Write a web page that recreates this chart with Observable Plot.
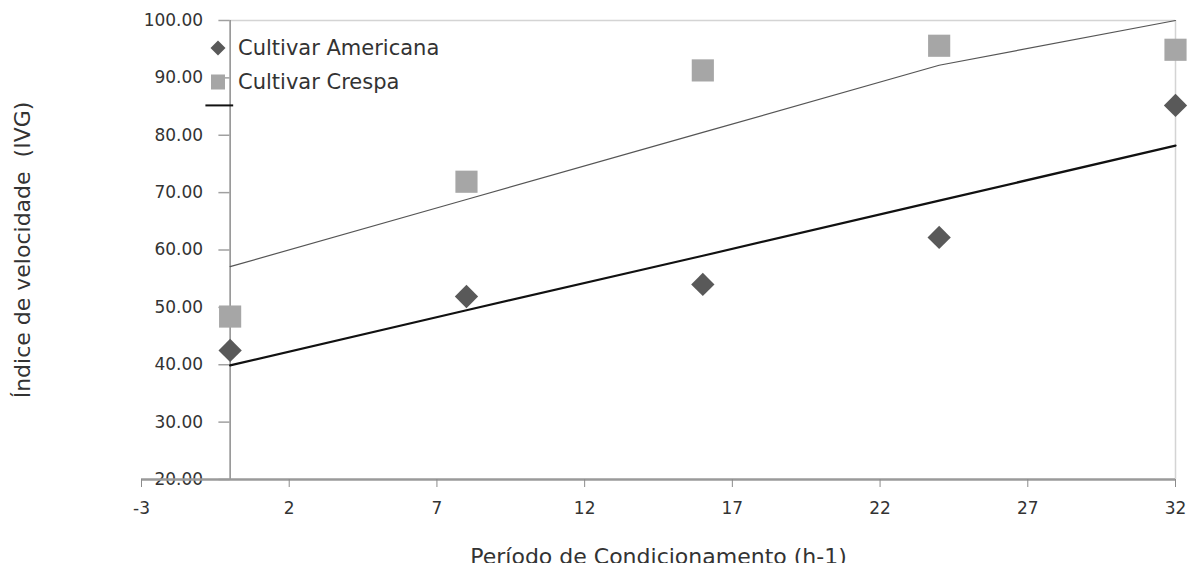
<!DOCTYPE html>
<html>
<head>
<meta charset="utf-8">
<script src="https://cdn.jsdelivr.net/npm/d3@7"></script>
<script src="https://cdn.jsdelivr.net/npm/@observablehq/plot@0.6"></script>
<style>
  html, body { margin: 0; padding: 0; background: #fff; }
  #wrap { position: relative; width: 1203px; height: 563px; overflow: hidden; font-family: "DejaVu Sans", sans-serif; }
  #legend { position: absolute; left: 210px; top: 31px; font-size: 21px; color: #333; line-height: 34px; }
  #legend div { display: flex; align-items: center; }
  #legend svg { margin-right: 12px; }
</style>
</head>
<body>
<div id="wrap">
  <div id="chart"></div>
  <div id="legend">
    <div><svg width="16" height="16"><path d="M8,0.5 L15.5,8 L8,15.5 L0.5,8 Z" fill="#595959"/></svg>Cultivar Americana</div>
    <div><svg width="16" height="16"><rect x="1" y="0.5" width="14" height="15" fill="#a6a6a6"/></svg>Cultivar Crespa</div>
  </div>
</div>
<script>
const periods = [0, 8, 16, 24, 32];
const americana = [42.5, 51.9, 54.0, 62.2, 85.2];
const crespa = [48.4, 71.9, 91.3, 95.6, 94.9];
const trendAmericana = [39.9, 49.5, 59.0, 68.6, 78.2];
const trendCrespa = [57.1, 68.8, 80.5, 92.2, 100.0];
const xTicks = [-3, 2, 7, 12, 17, 22, 27, 32];
const yTicks = [20, 30, 40, 50, 60, 70, 80, 90, 100];
const strayMark = [{y: 85.2, x1: -0.82, x2: 0.12}];
const xLabel = "Período de Condicionamento (h-1)";
const yLabel = "Índice de velocidade  (IVG)";

const am = periods.map((x, i) => ({x, y: americana[i], t: trendAmericana[i]}));
const cr = periods.map((x, i) => ({x, y: crespa[i], t: trendCrespa[i]}));

const chart = Plot.plot({
  width: 1203,
  height: 563,
  marginLeft: 141,
  marginRight: 28,
  marginTop: 20,
  marginBottom: 84,
  style: {fontFamily: "DejaVu Sans, sans-serif", fontSize: "17px", color: "#333", background: "#fff"},
  x: {domain: [-3, 32]},
  y: {domain: [20, 100], axis: null},
  marks: [
    // frame top and right
    Plot.ruleY([100], {x1: 0, x2: 32, stroke: "#d4d4d4", strokeWidth: 1.5}),
    Plot.ruleX([32], {y1: 20, y2: 100, stroke: "#d4d4d4", strokeWidth: 1.5}),
    // y axis line at x=0
    Plot.ruleX([0], {y1: 20, y2: 100, stroke: "#8c8c8c", strokeWidth: 1.5}),
    // y ticks
    Plot.ruleY(yTicks, {x1: -0.38, x2: 0, stroke: "#a0a0a0", strokeWidth: 1.5}),
    Plot.text(yTicks, {x: 0, y: d => d, text: d => d.toFixed(2), textAnchor: "end", dx: -27, fill: "#333", fontSize: 17}),
    // x axis
    Plot.ruleY([20], {stroke: "#9a9a9a", strokeWidth: 2.5}),
    Plot.axisX({ticks: xTicks, tickFormat: d => String(d), tickSize: 8, tickPadding: 14, stroke: "#8c8c8c", fill: "#333", fontSize: 17, label: null}),
    // stray black tick
    Plot.ruleY(strayMark, {y: "y", x1: "x1", x2: "x2", stroke: "#111", strokeWidth: 2}),
    // trend lines
    Plot.line(cr, {x: "x", y: "t", stroke: "#555", strokeWidth: 1.2}),
    Plot.line(am, {x: "x", y: "t", stroke: "#111", strokeWidth: 2.2}),
    // points
    Plot.dot(cr, {x: "x", y: "y", symbol: "square", r: 12.5, fill: "#a6a6a6", stroke: "none"}),
    Plot.dot(am, {x: "x", y: "y", symbol: "diamond2", r: 10.5, fill: "#595959", stroke: "none"}),
    // axis titles
    Plot.text([xLabel], {frameAnchor: "bottom", dy: 84, fontSize: 22, fill: "#333"}),
    Plot.text([yLabel], {frameAnchor: "left", textAnchor: "middle", dx: -119, rotate: -90, fontSize: 22, fill: "#333"})
  ]
});
document.getElementById("chart").appendChild(chart);
</script>
</body>
</html>
